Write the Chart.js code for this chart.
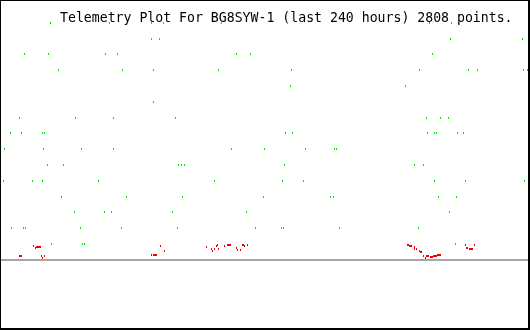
<!DOCTYPE html>
<html>
<head>
<meta charset="utf-8">
<title>Telemetry Plot</title>
<script src="https://cdn.jsdelivr.net/npm/chart.js@4.4.1/dist/chart.umd.min.js"></script>
<style>
    html, body { margin: 0; padding: 0; background: #ffffff; }
    #wrap { position: relative; width: 530px; height: 330px; }
</style>
</head>
<body>
<div id="wrap"><canvas id="telemetryChart" width="530" height="330"></canvas></div>
<script>
const titleText = 'Telemetry Plot For BG8SYW-1 (last 240 hours) 2808 points.';
const hoursMin = 0;
const hoursMax = 240;

// green channel: discrete levels 1..15 (x = hours ago scale)
const greenHours = [
    22.0, 48.9, 68.0, 73.9, 100.2, 195.2, 205.2, 208.9,
    68.4, 72.0, 204.8, 237.5,
    10.2, 21.1, 47.0, 52.5, 107.0, 113.4, 196.6, 240.0,
    25.7, 54.8, 68.9, 98.9, 132.0, 190.7, 213.0, 217.0, 238.0, 239.8,
    131.6, 183.9,
    69.3,
    8.0, 33.4, 51.1, 79.3, 193.9, 200.2, 203.9,
    3.9, 8.9, 18.4, 19.3, 129.3, 132.5, 194.3, 197.5, 198.4, 208.0, 210.7,
    1.1, 18.9, 36.1, 50.7, 104.8, 119.8, 138.4, 151.6, 152.5,
    20.7, 28.0, 80.7, 82.0, 83.4, 128.9, 188.4, 192.5,
    0.7, 13.9, 18.4, 43.9, 97.0, 128.0, 137.5, 197.5, 211.6, 238.4,
    27.0, 57.0, 82.5, 119.3, 149.8, 151.1, 199.3, 207.5,
    33.0, 46.6, 49.8, 78.0, 111.6, 204.3,
    4.3, 9.8, 10.7, 35.7, 54.3, 80.2, 115.7, 127.5, 128.4, 153.9, 190.2,
    22.5, 36.6, 37.5, 207.0
];
const greenLevels = [
    15, 15, 15, 15, 15, 15, 15, 15,
    14, 14, 14, 14,
    13, 13, 13, 13, 13, 13, 13, 13,
    12, 12, 12, 12, 12, 12, 12, 12, 12, 12,
    11, 11,
    10,
    9, 9, 9, 9, 9, 9, 9,
    8, 8, 8, 8, 8, 8, 8, 8, 8, 8, 8,
    7, 7, 7, 7, 7, 7, 7, 7, 7,
    6, 6, 6, 6, 6, 6, 6, 6,
    5, 5, 5, 5, 5, 5, 5, 5, 5, 5,
    4, 4, 4, 4, 4, 4, 4, 4,
    3, 3, 3, 3, 3, 3,
    2, 2, 2, 2, 2, 2, 2, 2, 2, 2, 2,
    1, 1, 1, 1
];

// red channel: small analog values just above zero
const redHours = [
    8.0, 8.4, 8.9, 14.3, 15.2, 15.7, 16.1, 16.6, 17.0, 17.5, 18.0, 18.4, 19.3,
    68.0, 68.4, 68.9, 69.3, 69.8, 70.2, 70.7, 72.5, 74.3,
    93.4, 95.7, 96.1, 97.0, 98.0, 98.4, 98.9, 101.6, 103.0, 103.4, 103.9, 104.3,
    107.0, 107.5, 108.9, 109.8, 110.2, 110.7, 112.0,
    185.2, 185.7, 186.1, 186.6, 187.0, 188.0, 188.4, 188.9, 190.7, 191.1, 191.6,
    192.5, 193.4, 193.9, 194.3, 194.8, 195.7, 196.1, 196.6,
    197.0, 197.5, 198.0, 198.4, 198.9, 199.3, 199.8, 200.2,
    211.6, 212.0, 212.5, 213.4, 213.9, 214.3, 214.8, 215.7
];
const redValues = [
    0.27, 0.27, 0.27, 0.89, 0.75, 0.83, 0.83, 0.83, 0.83, 0.83, 0.27, 0.13, 0.27,
    0.33, 0.33, 0.33, 0.33, 0.33, 0.33, 0.33, 0.89, 0.56,
    0.81, 0.69, 0.56, 0.69, 0.88, 0.94, 0.69, 0.88, 0.94, 0.94, 0.94, 0.94,
    0.75, 0.63, 0.63, 0.94, 0.94, 0.88, 0.94,
    0.94, 0.94, 0.88, 0.88, 0.88, 0.81, 0.69, 0.69, 0.56, 0.5, 0.5,
    0.27, 0.14, 0.27, 0.27, 0.27, 0.21, 0.21, 0.21,
    0.27, 0.27, 0.27, 0.27, 0.33, 0.33, 0.33, 0.33,
    0.94, 0.75, 0.75, 0.67, 0.67, 0.67, 0.67, 0.94
];

document.addEventListener('DOMContentLoaded', function () {
    // tiny 1x2 marks, like the original plotter draws
    function makeMark(color) {
        const c = document.createElement('canvas');
        c.width = 1;
        c.height = 2;
        const g = c.getContext('2d');
        g.fillStyle = color;
        g.fillRect(0, 0, 1, 2);
        return c;
    }

    const toPoints = (xs, ys) => xs.map((x, i) => ({ x: x, y: ys[i] }));

    const framePlugin = {
        id: 'frame',
        beforeDatasetsDraw(chart) {
            const ctx = chart.ctx;
            const y0 = chart.scales.y.getPixelForValue(0);
            ctx.save();
            // zero line
            ctx.fillStyle = '#a6a6a6';
            ctx.fillRect(0, Math.round(y0) - 1, chart.width, 2);
            // title sits inside the plot, marks go over it
            ctx.fillStyle = '#000000';
            ctx.font = '13.2px "DejaVu Sans Mono", monospace';
            ctx.textBaseline = 'alphabetic';
            ctx.fillText(titleText, 60, 22);
            ctx.restore();
            ctx.imageSmoothingEnabled = false;
        },
        afterDraw(chart) {
            const ctx = chart.ctx;
            const w = chart.width, h = chart.height;
            ctx.save();
            ctx.fillStyle = '#000000';
            ctx.fillRect(0, 0, w, 1);
            ctx.fillRect(0, 0, 1, h);
            ctx.fillRect(w - 2, 0, 2, h);
            ctx.fillRect(0, h - 2, w, 2);
            ctx.restore();
        }
    };

    new Chart(document.getElementById('telemetryChart').getContext('2d'), {
        type: 'scatter',
        data: {
            datasets: [
                {
                    label: 'ch1',
                    data: toPoints(redHours, redValues),
                    pointStyle: makeMark('#f00000'),
                    pointRadius: 1,
                    pointHoverRadius: 1
                },
                {
                    label: 'ch2',
                    data: toPoints(greenHours, greenLevels),
                    pointStyle: makeMark('#00e600'),
                    pointRadius: 1,
                    pointHoverRadius: 1
                }
            ]
        },
        options: {
            responsive: false,
            animation: false,
            devicePixelRatio: 1,
            layout: { padding: { left: 0, right: 2, top: 0, bottom: 0 } },
            plugins: {
                legend: { display: false },
                title: { display: false },
                tooltip: { enabled: false }
            },
            scales: {
                x: { type: 'linear', min: hoursMin, max: hoursMax, display: false },
                y: { type: 'linear', min: -4.3125, max: 16.3125, display: false }
            }
        },
        plugins: [framePlugin]
    });
});
</script>
</body>
</html>
